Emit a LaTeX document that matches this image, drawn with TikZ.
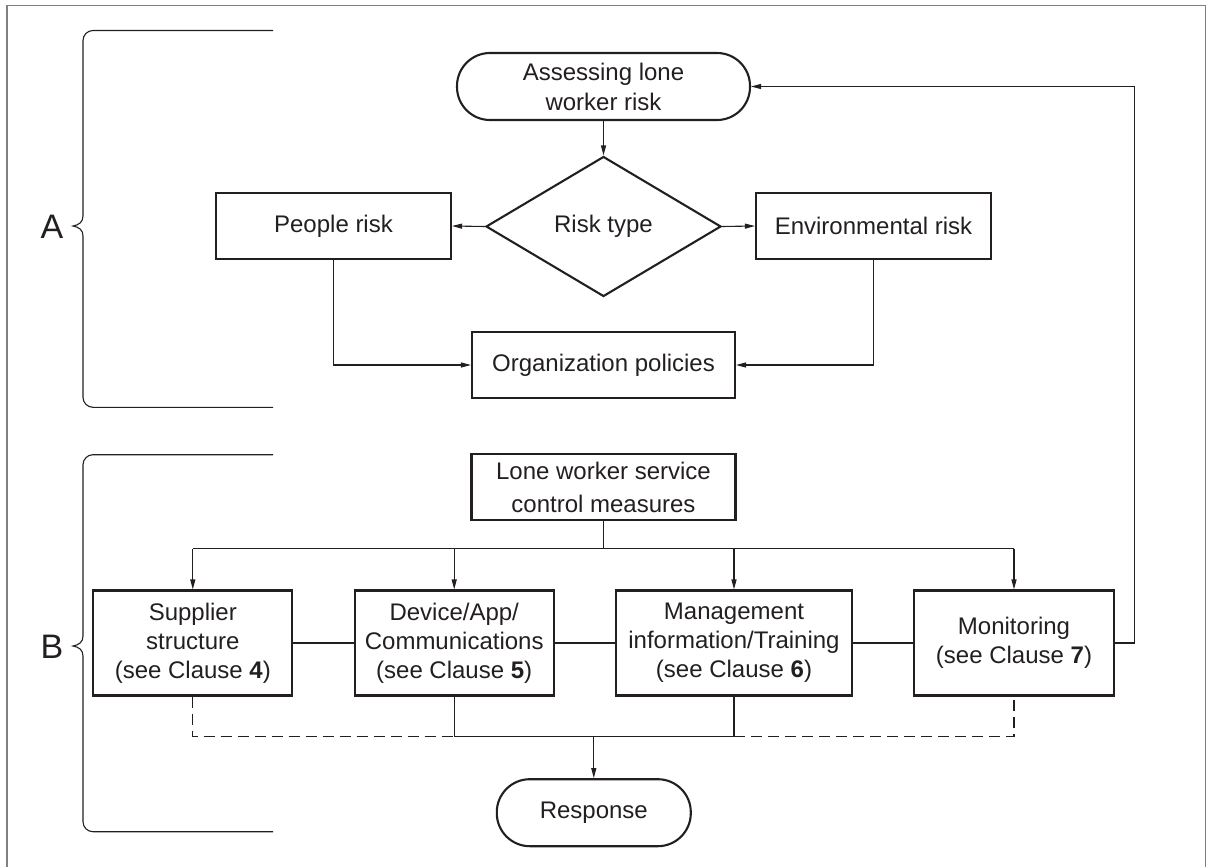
\documentclass[tikz,border=0pt]{standalone}
\usepackage{fontspec}
\setmainfont{Liberation Sans}
\usetikzlibrary{arrows.meta,shapes.geometric}
\definecolor{ink}{RGB}{35,31,32}
\begin{document}
\begin{tikzpicture}[x=1pt,y=-1pt,
  every node/.style={font=\fontsize{24}{29}\selectfont, text=ink},
  boxnode/.style={draw=ink, line width=2.1pt, rectangle, inner sep=0pt, align=center},
  termnode/.style={draw=ink, line width=2.1pt, rectangle, rounded corners=33pt, inner sep=0pt, align=center},
  decnode/.style={draw=ink, line width=2.1pt, diamond, inner sep=0pt, minimum width=235pt, minimum height=140pt},
  conn/.style={draw=ink, line width=1.1pt},
  arr/.style={conn, -{Triangle[length=10pt,width=5pt]}},
  dashconn/.style={conn, dash pattern=on 11pt off 6pt},
  bracepath/.style={draw=ink, line width=1.1pt},
  lettre/.style={font=\fontsize{34}{40}\selectfont}
]
\useasboundingbox (0,0) rectangle (1210,867);
% outer frame
\draw[gray, line width=1.2pt] (7,867) -- (7,5.3) -- (1205.7,5.3) -- (1205.7,867);

% braces
\draw[bracepath, rounded corners=10pt] (273,30.5) -- (83,30.5) -- (83,216);
\draw[bracepath] (83,216) .. controls (83,222) and (79,225) .. (73,226) .. controls (79,227) and (83,230) .. (83,236);
\draw[bracepath, rounded corners=10pt] (83,236) -- (83,407.3) -- (273,407.3);
\node[lettre] (la) at (52,227) {A};

\draw[bracepath, rounded corners=10pt] (273,454.7) -- (83,454.7) -- (83,636);
\draw[bracepath] (83,636) .. controls (83,642) and (79,645) .. (73,646) .. controls (79,647) and (83,650) .. (83,656);
\draw[bracepath, rounded corners=10pt] (83,656) -- (83,831.7) -- (273,831.7);
\node[lettre] (lb) at (52,647) {B};

% section A nodes
\node[termnode, minimum width=293pt, minimum height=67pt, font=\fontsize{24}{30}\selectfont] (term) at (603.5,86.5) {Assessing lone\\worker risk};
\node[decnode] (risk) at (603.5,226.5) {Risk type};
\node[boxnode, minimum width=235pt, minimum height=66pt] (people) at (333.5,226) {People risk};
\node[boxnode, minimum width=235pt, minimum height=66pt] (env) at (873.5,226) {Environmental risk};
\node[boxnode, minimum width=263pt, minimum height=66pt] (org) at (603.5,365) {Organization policies};

% section B nodes
\node[boxnode, minimum width=264pt, minimum height=66pt, font=\fontsize{24}{33}\selectfont] (lone) at (603.5,487) {Lone worker service\\control measures};
\node[boxnode, minimum width=199pt, minimum height=105pt] (s1) at (192.8,643) {Supplier\\structure\\(see Clause \textbf{4})};
\node[boxnode, minimum width=199pt, minimum height=105pt] (s2) at (454.2,643) {Device/App/\\Communications\\(see Clause \textbf{5})};
\node[boxnode, minimum width=236.6pt, minimum height=105pt] (s3) at (734,643) {Management\\information/Training\\(see Clause \textbf{6})};
\node[boxnode, minimum width=199.4pt, minimum height=105pt] (s4) at (1014,643) {Monitoring\\(see Clause \textbf{7})};
\node[termnode, minimum width=194pt, minimum height=67pt] (resp) at (593.8,812.7) {Response};

% section A connectors
\draw[arr] (term.south) -- (risk.north);
\draw[arr] (risk.west) -- (people.east);
\draw[arr] (risk.east) -- (env.west);
\draw[arr] (people.south) |- (org.west);
\draw[arr] (env.south) |- (org.east);

% feedback loop
\coordinate (rc) at (1134.7,643);
\draw[arr] (s4.east) -- (rc) |- (term.east);

% distribution bus
\coordinate (busL) at (192.8,548.7);
\coordinate (busR) at (1014,548.7);
\draw[conn] (lone.south) -- (lone.south |- busL);
\draw[conn] (busL) -- (busR);
\draw[arr] (busL) -- (s1.north);
\draw[arr] (s2.north |- busL) -- (s2.north);
\draw[arr] (s3.north |- busL) -- (s3.north);
\draw[arr] (busR) -- (s4.north);

% links between boxes
\draw[conn] (s1.east) -- (s2.west);
\draw[conn] (s2.east) -- (s3.west);
\draw[conn] (s3.east) -- (s4.west);

% collection bus
\coordinate (bot) at (0,736.7);
\draw[dashconn] (s1.south) |- (s2.south |- bot);
\draw[conn] (s2.south) -- (s2.south |- bot) -- (s3.south |- bot) -- (s3.south);
\draw[dashconn] (s3.south |- bot) -| (s4.south);
\draw[arr] (resp.north |- bot) -- (resp.north);
\end{tikzpicture}
\end{document}
